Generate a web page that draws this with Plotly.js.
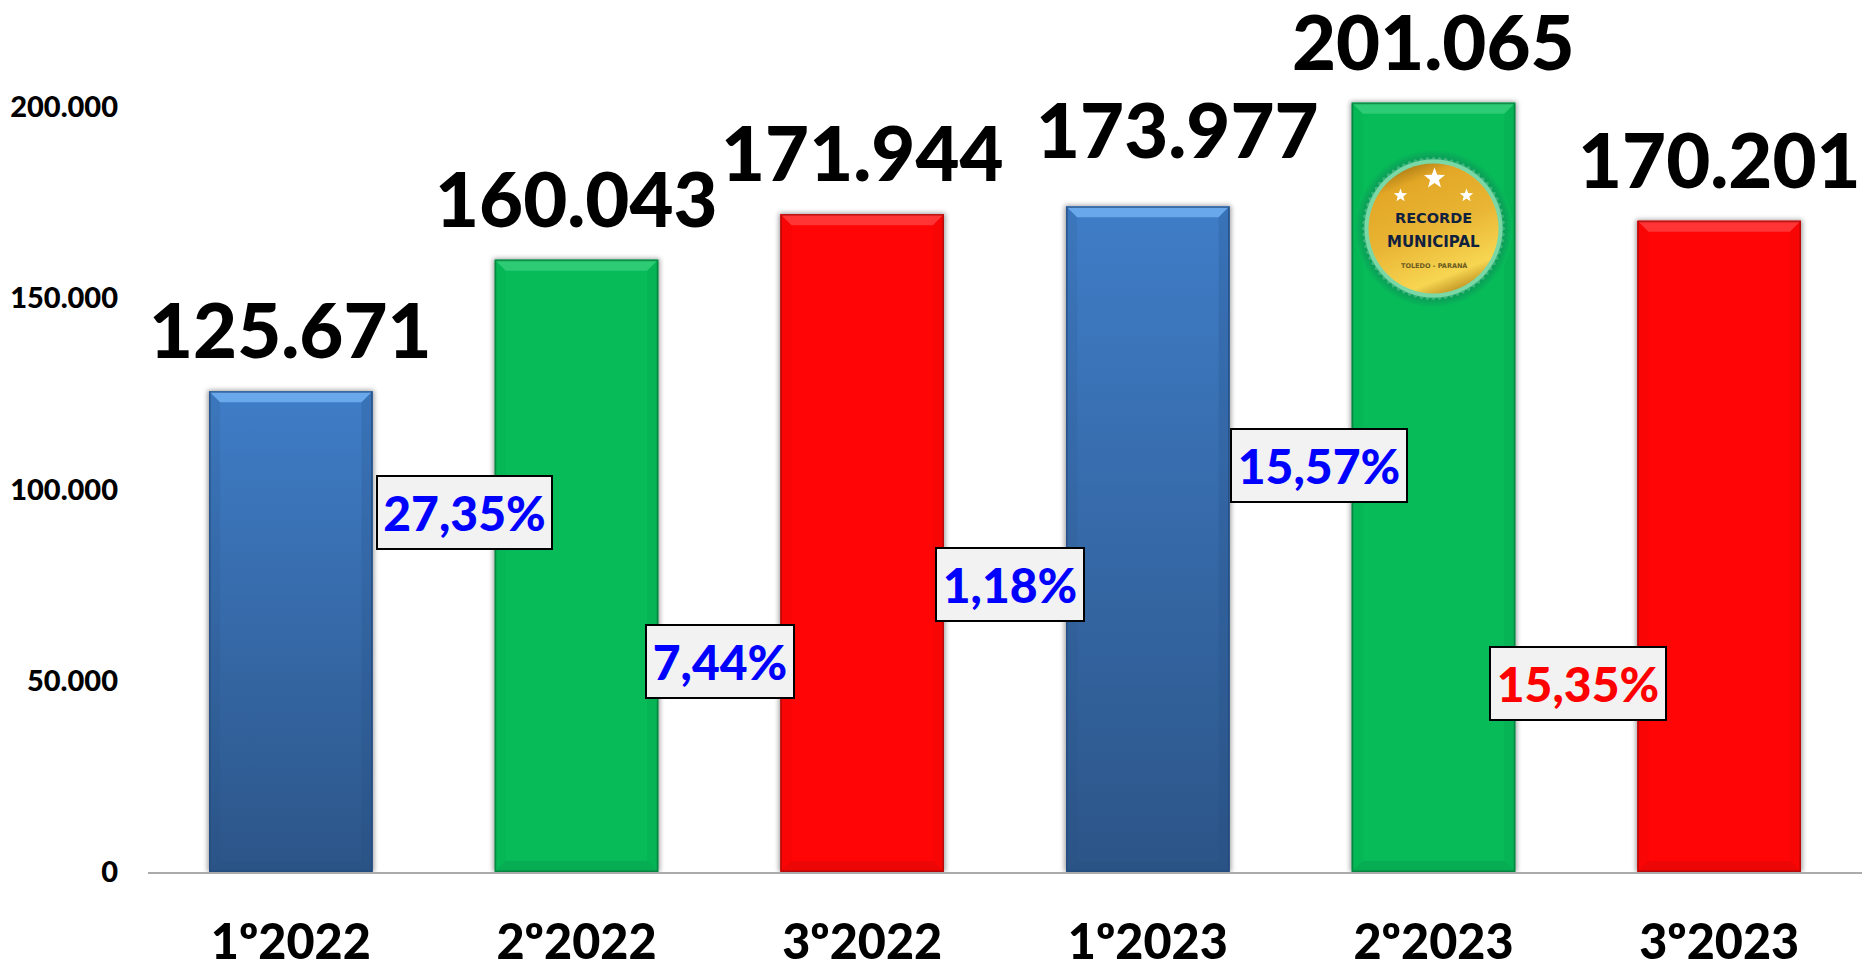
<!DOCTYPE html>
<html><head><meta charset="utf-8">
<script src="https://cdn.plot.ly/plotly-3.0.1.min.js"></script>
<style>html,body{margin:0;padding:0;background:#fff;overflow:hidden}#chart{width:1862px;height:964px}</style>
</head><body><div id="chart"></div>
<script>
var categories = ['1º2022','2º2022','3º2022','1º2023','2º2023','3º2023'];
var values = [125671,160043,171944,173977,201065,170201];
var changeLabels = ['27,35%','7,44%','1,18%','15,57%','15,35%'];
var yTicks = [0,50000,100000,150000,200000];
var recordLines = ['RECORDE','MUNICIPAL','TOLEDO - PARANÁ'];

/* styling */
var FONT='Lato, Carlito, Calibri, sans-serif';
var W=1862,H=964,L=148,BASE=872;
var UNIT=0.003826;                   // px per value unit
var STEP=(W-L)/6;                    // px per category
var BARW=163.5;
var themes=[
 {top:'#3F7DC7',bot:'#2C5588',hi:'#6AA8EC',edge:'#234a7c',sl:0.13,sr:0.2},
 {top:'#07BB58',bot:'#07BB58',hi:'#2CCB74',edge:'#067a3c',sl:0.06,sr:0.1},
 {top:'#FF0505',bot:'#FF0505',hi:'#FF3434',edge:'#A50C0C',sl:0.05,sr:0.08}
];
var barTheme=[0,1,2,0,1,2];
var labelShift=[[0,0],[0,0],[0,0],[30,15],[0,0],[0,0]];
var boxes=[ // [centre px x, centre px y, width px, colour]
 [464.5,512,177,'#0000FF'],[720,661,150,'#0000FF'],[1009.5,584,150,'#0000FF'],
 [1319,465.5,178,'#0000FF'],[1578,683,178,'#FF0000']];

function pxX(px){return (px-L)/STEP-0.5;}
function pxY(py){return (BASE-py)/UNIT;}

function barSvg(t,h){
  var w=BARW,p=8,b=11,T=w+2*p,Hh=h+p;
  var s='<svg xmlns="http://www.w3.org/2000/svg" width="'+T+'" height="'+Hh+'" viewBox="'+(-p)+' '+(-p)+' '+T+' '+Hh+'" preserveAspectRatio="none">'+
  '<defs><linearGradient id="g" x1="0" y1="0" x2="0" y2="1"><stop offset="0" stop-color="'+t.top+'"/><stop offset="1" stop-color="'+t.bot+'"/></linearGradient>'+
  '<filter id="f" x="-10%" y="-10%" width="120%" height="120%"><feGaussianBlur stdDeviation="2.5"/></filter></defs>'+
  '<rect x="-1.5" y="-1" width="'+(w+3)+'" height="'+(h+1)+'" fill="#000" opacity="0.38" filter="url(#f)"/>'+
  '<rect width="'+w+'" height="'+h+'" fill="url(#g)"/>'+
  '<polygon points="0,0 '+w+',0 '+(w-b)+','+b+' '+b+','+b+'" fill="'+t.hi+'"/>'+
  '<polygon points="0,0 '+b+','+b+' '+b+','+(h-b)+' 0,'+h+'" fill="'+t.edge+'" opacity="'+t.sl+'"/>'+
  '<polygon points="'+w+',0 '+(w-b)+','+b+' '+(w-b)+','+(h-b)+' '+w+','+h+'" fill="'+t.edge+'" opacity="'+t.sr+'"/>'+
  '<polygon points="0,'+h+' '+b+','+(h-b)+' '+(w-b)+','+(h-b)+' '+w+','+h+'" fill="'+t.edge+'" opacity="0.2"/>'+
  '<rect x="0.75" y="0.75" width="'+(w-1.5)+'" height="'+(h-1.5)+'" fill="none" stroke="'+t.edge+'" stroke-width="1.5" opacity="0.75"/>'+
  '</svg>';
  return 'data:image/svg+xml;charset=utf-8,'+encodeURIComponent(s);
}
function star(cx,cy,r){
  var pts=[];
  for(var i=0;i<10;i++){var a=-Math.PI/2+i*Math.PI/5,q=i%2?r*0.42:r;
    pts.push((cx+q*Math.cos(a)).toFixed(1)+','+(cy+q*Math.sin(a)).toFixed(1));}
  return '<polygon points="'+pts.join(' ')+'" fill="#fff"/>';
}
function medalSvg(){
  var scal=[];
  for(var i=0;i<144;i++){var a=i*Math.PI/72,q=i%2?69:72;
    scal.push((80+q*Math.cos(a)).toFixed(1)+','+(80+q*Math.sin(a)).toFixed(1));}
  var s='<svg xmlns="http://www.w3.org/2000/svg" width="160" height="160" viewBox="0 0 160 160">'+
  '<defs><linearGradient id="m" x1="0.3" y1="0" x2="0.7" y2="1">'+
  '<stop offset="0" stop-color="#A87A14"/><stop offset="0.14" stop-color="#E3A726"/><stop offset="0.5" stop-color="#E9B534"/><stop offset="0.85" stop-color="#F7D652"/><stop offset="1" stop-color="#B98A1C"/></linearGradient>'+
  '<radialGradient id="o"><stop offset="0.88" stop-color="#0B9A58"/><stop offset="1" stop-color="#07BB58"/></radialGradient></defs>'+
  '<circle cx="80" cy="80" r="79" fill="url(#o)"/>'+
  '<polygon points="'+scal.join(' ')+'" fill="#3DB67C"/>'+
  '<circle cx="80" cy="80" r="69" fill="#79D8A6"/>'+
  '<circle cx="80" cy="80" r="65" fill="url(#m)"/>'+
  star(81,30,11)+star(47,47,7)+star(113,47,7)+
  '</svg>';
  return 'data:image/svg+xml;charset=utf-8,'+encodeURIComponent(s);
}

var images=values.map(function(v,i){
  var h=v*UNIT,p=8;
  return {source:barSvg(themes[barTheme[i]],h),xref:'x',yref:'y',x:categories[i],
    y:v+p/UNIT,sizex:(BARW+2*p)/STEP,sizey:v+p/UNIT,xanchor:'center',yanchor:'top',
    sizing:'stretch',layer:'above'};
});
images.push({source:medalSvg(),xref:'x',yref:'y',x:4,y:pxY(228.5),sizex:160/STEP,sizey:160/UNIT,
  xanchor:'center',yanchor:'middle',sizing:'stretch',layer:'above'});

var annotations=[];
values.forEach(function(v,i){
  annotations.push({x:categories[i],y:v,xref:'x',yref:'y',xanchor:'center',yanchor:'bottom',
    xshift:labelShift[i][0],yshift:15+labelShift[i][1],
    text:v.toLocaleString('de-DE'),showarrow:false,font:{family:FONT,size:76,color:'#000',weight:900}});
});
changeLabels.forEach(function(txt,i){
  var b=boxes[i];
  annotations.push({x:pxX(b[0]),y:pxY(b[1]),xref:'x',yref:'y',xanchor:'center',yanchor:'middle',
    text:txt,showarrow:false,width:b[2]-6,height:69,align:'center',valign:'middle',
    bgcolor:'#F2F2F2',bordercolor:'#000',borderwidth:2,borderpad:1,
    font:{family:FONT,size:48,color:b[3],weight:900}});
});
var badge=[[218,14.5,'#10213F'],[242,15,'#10213F'],[265,6.5,'#6B5A20']];
recordLines.forEach(function(txt,i){
  annotations.push({x:4,y:pxY(badge[i][0]),xref:'x',yref:'y',xanchor:'center',yanchor:'middle',
    text:'<b>'+txt+'</b>',showarrow:false,font:{family:'"DejaVu Sans", sans-serif',size:badge[i][1],color:badge[i][2]}});
});

Plotly.newPlot('chart',[{
  type:'bar',x:categories,y:values,width:BARW/STEP,
  marker:{color:barTheme.map(function(k){return themes[k].top;}),line:{width:0}},
  hoverinfo:'x+y',cliponaxis:false
}],{
  width:W,height:H,margin:{l:L,r:0,t:0,b:H-BASE,pad:0},
  paper_bgcolor:'#fff',plot_bgcolor:'#fff',showlegend:false,separators:',.',
  images:images,annotations:annotations,
  xaxis:{type:'category',categories:categories,categoryorder:'array',range:[-0.5,5.5],
    showline:true,linecolor:'#ABABAB',linewidth:2,showgrid:false,zeroline:false,ticks:'',
    tickfont:{family:FONT,size:48.5,color:'#000',weight:900},ticklabelstandoff:27,fixedrange:true},
  yaxis:{range:[0,BASE/UNIT],tickvals:yTicks,tickformat:',',showgrid:false,zeroline:false,showline:false,ticks:'',
    tickfont:{family:FONT,size:29,color:'#000',weight:900},ticklabelstandoff:29,fixedrange:true},
  bargap:0.43
},{displayModeBar:false,responsive:false});
</script></body></html>
